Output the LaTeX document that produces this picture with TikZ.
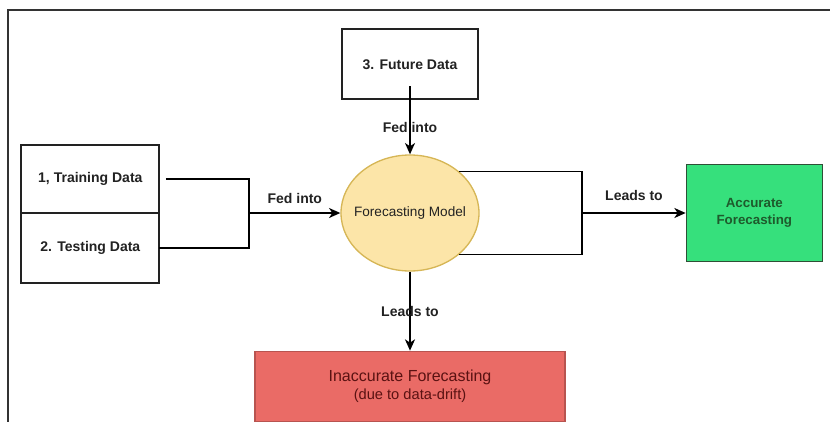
\documentclass[tikz,border=0pt]{standalone}
\usepackage{fontspec}
\setmainfont{Liberation Sans}
\usetikzlibrary{arrows.meta, positioning, shapes.geometric}
\definecolor{cdark}{HTML}{222222}
\definecolor{cyellow}{HTML}{FCE5A8}
\definecolor{cyellowline}{HTML}{D6B656}
\definecolor{cgreen}{HTML}{36E07C}
\definecolor{cgreenline}{HTML}{2E4F36}
\definecolor{cgreentext}{HTML}{1E5A2C}
\definecolor{cred}{HTML}{EA6B66}
\definecolor{credline}{HTML}{B85450}
\definecolor{credtext}{HTML}{5A1212}
\newcommand{\labelsize}{\fontsize{10.5}{12.6}\selectfont}
\tikzset{
  every picture/.style={font=\small, line width=1.3pt},
  databox/.style={draw=cdark, fill=white, outer sep=0pt, align=center, text=cdark, font=\labelsize\bfseries},
  model/.style={ellipse, draw=cyellowline, fill=cyellow, line width=1pt, inner sep=0pt, minimum width=103.5pt, minimum height=87pt, text=cdark, font=\fontsize{10.2}{12}\selectfont},
  goodbox/.style={draw=cgreenline, fill=cgreen, line width=1pt, align=center, text=cgreentext, font=\fontsize{10}{12.75}\selectfont\bfseries, minimum width=102pt, minimum height=72.75pt},
  badbox/.style={draw=credline, fill=cred, line width=1pt, align=center, text=credtext, font=\fontsize{12}{14}\selectfont, minimum width=232.5pt, minimum height=52.5pt},
  arrow/.style={-{Stealth[length=8.5pt, width=7.5pt, inset=2.5pt]}, draw=black, line width=1.4pt},
  link/.style={draw=black, line width=1.4pt},
  note/.style={font=\labelsize\bfseries, text=cdark},
}

\begin{document}
\begin{tikzpicture}
  \useasboundingbox (-307.5pt,-156.75pt) rectangle (315pt,159.75pt);
  % page frame
  \draw[black!80, line width=1.2pt] (315pt,152.25pt) -| (-301.5pt,-156.75pt);

  \node[model] (model) at (0,0) {\makebox[0pt]{Forecasting Model}};
  \node[databox, above=41.25pt of model, minimum width=102pt, minimum height=52.5pt] (future) {3. Future Data};
  \node[databox, above left=0pt and 135.75pt of model.west, minimum width=103.5pt, minimum height=51pt] (train) {1, Training Data};
  \node[databox, below=0pt of train, minimum width=103.5pt, minimum height=52.5pt] (test) {2. Testing Data};
  \node[goodbox, right=154.5pt of model] (acc) {Accurate\\Forecasting};
  \node[badbox, below=59.25pt of model] (inacc) {Inaccurate Forecasting\\{\fontsize{11}{13}\selectfont (due to data-drift)}};

  % joins of the two brackets
  \coordinate[right=67.5pt of train.south east] (ljoin);
  \coordinate[right=77pt of model.east] (rjoin);

  \draw[link] ([xshift=5pt]train.east) -| (ljoin) |- (test.east);
  \draw[arrow] (ljoin) -- node[note, above=3pt] {Fed into} (model);
  \draw[arrow] ([yshift=10pt]future.south) -- node[note, pos=0.6] {Fed into} (model.north);
  \draw[link] (model.north east) -| (rjoin) |- (model.south east);
  \draw[arrow] (rjoin) -- node[note, above=5pt] {Leads to} (acc);
  \draw[arrow] (model.south) -- node[note] {Leads to} (inacc);
\end{tikzpicture}
\end{document}
